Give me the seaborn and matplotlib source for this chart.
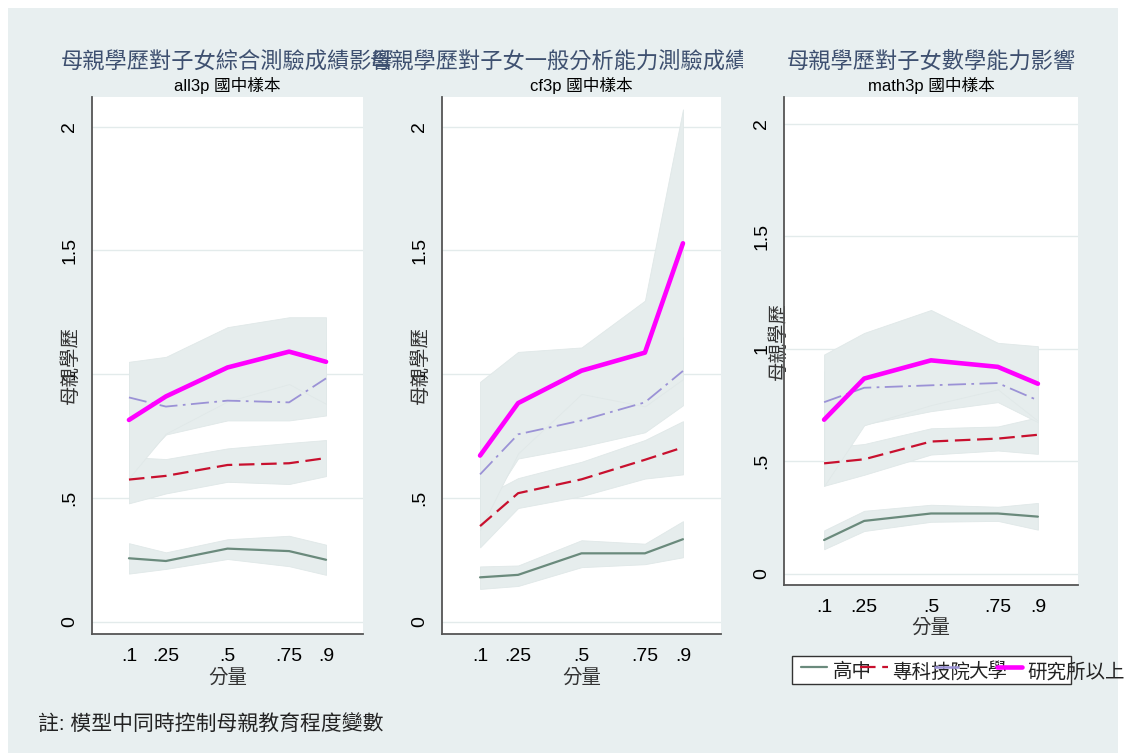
import numpy as np
import pandas as pd
import matplotlib
matplotlib.use('Agg')
import matplotlib.pyplot as plt
import seaborn as sns
from matplotlib.patches import Rectangle
from matplotlib.lines import Line2D
from matplotlib.transforms import Bbox, TransformedBbox

# quantiles and labels
q = [0.1, 0.25, 0.5, 0.75, 0.9]
q_labels = ['.1', '.25', '.5', '.75', '.9']
groups = ['高中', '專科技院', '大學', '研究所以上']

# all3p
all3p_hs = [0.256, 0.245, 0.295, 0.285, 0.250]
all3p_hs_lo = [0.194, 0.213, 0.253, 0.224, 0.189]
all3p_hs_hi = [0.317, 0.280, 0.333, 0.347, 0.311]
all3p_jc = [0.574, 0.589, 0.633, 0.640, 0.661]
all3p_jc_lo = [0.478, 0.518, 0.565, 0.556, 0.588]
all3p_jc_hi = [0.665, 0.657, 0.700, 0.722, 0.734]
all3p_univ = [0.906, 0.869, 0.893, 0.886, 0.983]
all3p_univ_lo = [0.60, 0.756, 0.813, 0.813, 0.833]
all3p_univ_hi = [1.02, 0.99, 1.00, 0.99, 1.13]
all3p_grad = [0.815, 0.910, 1.027, 1.091, 1.050]
all3p_grad_lo = [0.58, 0.76, 0.89, 0.96, 0.88]
all3p_grad_hi = [1.05, 1.07, 1.19, 1.23, 1.23]

# cf3p
cf3p_hs = [0.179, 0.189, 0.276, 0.276, 0.333]
cf3p_hs_lo = [0.132, 0.144, 0.220, 0.232, 0.260]
cf3p_hs_hi = [0.223, 0.227, 0.329, 0.315, 0.406]
cf3p_jc = [0.386, 0.519, 0.575, 0.654, 0.704]
cf3p_jc_lo = [0.30, 0.459, 0.507, 0.578, 0.595]
cf3p_jc_hi = [0.50, 0.580, 0.646, 0.734, 0.810]
cf3p_univ = [0.595, 0.757, 0.813, 0.886, 1.013]
cf3p_univ_lo = [0.42, 0.659, 0.707, 0.765, 0.874]
cf3p_univ_hi = [0.74, 0.86, 0.92, 0.99, 1.15]
cf3p_grad = [0.671, 0.883, 1.014, 1.087, 1.529]
cf3p_grad_lo = [0.37, 0.68, 0.92, 0.87, 0.98]
cf3p_grad_hi = [0.969, 1.09, 1.108, 1.297, 2.07]

# math3p
math3p_hs = [0.150, 0.235, 0.268, 0.268, 0.254]
math3p_hs_lo = [0.109, 0.190, 0.231, 0.235, 0.196]
math3p_hs_hi = [0.193, 0.280, 0.307, 0.298, 0.315]
math3p_jc = [0.491, 0.509, 0.588, 0.601, 0.618]
math3p_jc_lo = [0.391, 0.440, 0.530, 0.548, 0.533]
math3p_jc_hi = [0.56, 0.577, 0.647, 0.655, 0.696]
math3p_univ = [0.763, 0.827, 0.838, 0.848, 0.771]
math3p_univ_lo = [0.50, 0.664, 0.723, 0.763, 0.674]
math3p_univ_hi = [0.90, 0.98, 0.95, 0.93, 0.87]
math3p_grad = [0.685, 0.868, 0.949, 0.920, 0.845]
math3p_grad_lo = [0.39, 0.66, 0.75, 0.82, 0.68]
math3p_grad_hi = [0.975, 1.071, 1.173, 1.027, 1.012]

titles = ['母親學歷對子女綜合測驗成績影響',
          '母親學歷對子女一般分析能力測驗成績影響',
          '母親學歷對子女數學能力影響']
subtitles = ['all3p 國中樣本', 'cf3p 國中樣本', 'math3p 國中樣本']
y_ticks = [0, 0.5, 1, 1.5, 2]
y_tick_labels = ['0', '.5', '1', '1.5', '2']
ylab = '母親學歷'
xlab = '分量'
note = '註: 模型中同時控制母親教育程度變數'

panels = [
    [(all3p_hs, all3p_hs_lo, all3p_hs_hi), (all3p_jc, all3p_jc_lo, all3p_jc_hi),
     (all3p_univ, all3p_univ_lo, all3p_univ_hi), (all3p_grad, all3p_grad_lo, all3p_grad_hi)],
    [(cf3p_hs, cf3p_hs_lo, cf3p_hs_hi), (cf3p_jc, cf3p_jc_lo, cf3p_jc_hi),
     (cf3p_univ, cf3p_univ_lo, cf3p_univ_hi), (cf3p_grad, cf3p_grad_lo, cf3p_grad_hi)],
    [(math3p_hs, math3p_hs_lo, math3p_hs_hi), (math3p_jc, math3p_jc_lo, math3p_jc_hi),
     (math3p_univ, math3p_univ_lo, math3p_univ_hi), (math3p_grad, math3p_grad_lo, math3p_grad_hi)],
]

# styles
colors = ['#6a8a7c', '#c8102e', '#9b92d6', '#ff00ff']
widths = [1.6, 1.6, 1.3, 3.3]
styles = ['-', (0, (7, 3)), (0, (10, 3, 1.5, 3)), '-']
bg = '#e8eff0'
band = '#e6eded'
title_c = '#3e5070'
spine_c = '#555555'

sns.set_style('white')
plt.rcParams['font.family'] = ['Liberation Sans', 'Noto Sans CJK TC', 'DejaVu Sans']

W, H = 1133, 753
fig = plt.figure(figsize=(W / 100, H / 100), dpi=100)
fig.patch.set_facecolor('white')
fig.add_artist(Rectangle((8 / W, 0), (1118 - 8) / W, 1 - 8 / H, transform=fig.transFigure,
                         facecolor=bg, edgecolor='none', zorder=-5))


def px(x0, y0, x1, y1):
    return [x0 / W, 1 - y1 / H, (x1 - x0) / W, (y1 - y0) / H]


boxes = [px(92, 97, 363, 634), px(442, 97, 721, 634), px(784, 97, 1078, 585)]
ylab_x = [-0.081, -0.079, -0.020]
xlab_y = [-0.082, -0.082, -0.088]

for i, (rect, series) in enumerate(zip(boxes, panels)):
    ax = fig.add_axes(rect)
    ax.set_facecolor('white')
    for mean, lo, hi in series:
        ax.fill_between(q, lo, hi, color=band, lw=0.6, edgecolor='#e0e8e8', zorder=1)
    for j, (mean, lo, hi) in enumerate(series):
        sns.lineplot(x=q, y=mean, ax=ax, color=colors[j], lw=widths[j],
                     linestyle=styles[j], solid_capstyle='round', zorder=3 + j)
    ax.set_xlim(-0.05, 1.05)
    ax.set_ylim(-0.05, 2.12)
    ax.set_xticks(q)
    ax.set_xticklabels(q_labels, fontsize=14)
    ax.set_yticks(y_ticks)
    ax.set_yticklabels(y_tick_labels, fontsize=14, rotation=90, va='center')
    ax.yaxis.grid(True, color='#e3ebeb', lw=1)
    ax.xaxis.grid(False)
    ax.set_axisbelow(True)
    for s in ['top', 'right']:
        ax.spines[s].set_visible(False)
    for s in ['left', 'bottom']:
        ax.spines[s].set_color(spine_c)
        ax.spines[s].set_linewidth(1.3)
    ax.tick_params(direction='out', length=5, width=1, color=spine_c, pad=5, labelcolor='black')
    ax.set_ylabel(ylab, fontsize=14, color='#333333')
    ax.yaxis.label.set_verticalalignment('center')
    ax.yaxis.set_label_coords(ylab_x[i], 0.5)
    ax.set_xlabel(xlab, fontsize=14, color='#333333')
    ax.xaxis.label.set_verticalalignment('center')
    ax.xaxis.set_label_coords(0.5, xlab_y[i])

    cx = rect[0] + rect[2] / 2
    t = fig.text(cx, 1 - 62 / H, titles[i], ha='center', va='center', fontsize=16, color=title_c)
    if i == 1:
        t.set_clip_on(True)
        t.set_clip_box(TransformedBbox(Bbox([[0, 0], [743 / W, 1]]), fig.transFigure))
    fig.text(cx, 1 - 86 / H, subtitles[i], ha='center', va='center', fontsize=12, color='black')

# legend (box narrower than its content, as in the original)
fig.add_artist(Rectangle((792 / W, 1 - 684 / H), (1071 - 792) / W, (684 - 656) / H,
                         transform=fig.transFigure, facecolor='white', edgecolor='#333333',
                         lw=1, zorder=1))
leg_line_x = [(801, 827), (860, 888), (934, 962), (997, 1022)]
leg_text_x = [833, 892, 968, 1027]
leg_widths = [1.6, 1.6, 1.8, 3.3]
for j in range(4):
    x0, x1 = leg_line_x[j]
    fig.add_artist(Line2D([x0 / W, x1 / W], [1 - 667 / H, 1 - 667 / H], transform=fig.transFigure,
                          color=colors[j], lw=leg_widths[j], linestyle=styles[j], zorder=5))
    fig.text(leg_text_x[j] / W, 1 - 672 / H, groups[j], ha='left', va='center',
             fontsize=14, color='#222222', zorder=4)

fig.text(38 / W, 1 - 725 / H, note, ha='left', va='center', fontsize=15, color='#222222')

fig.savefig('out.png', dpi=100)
